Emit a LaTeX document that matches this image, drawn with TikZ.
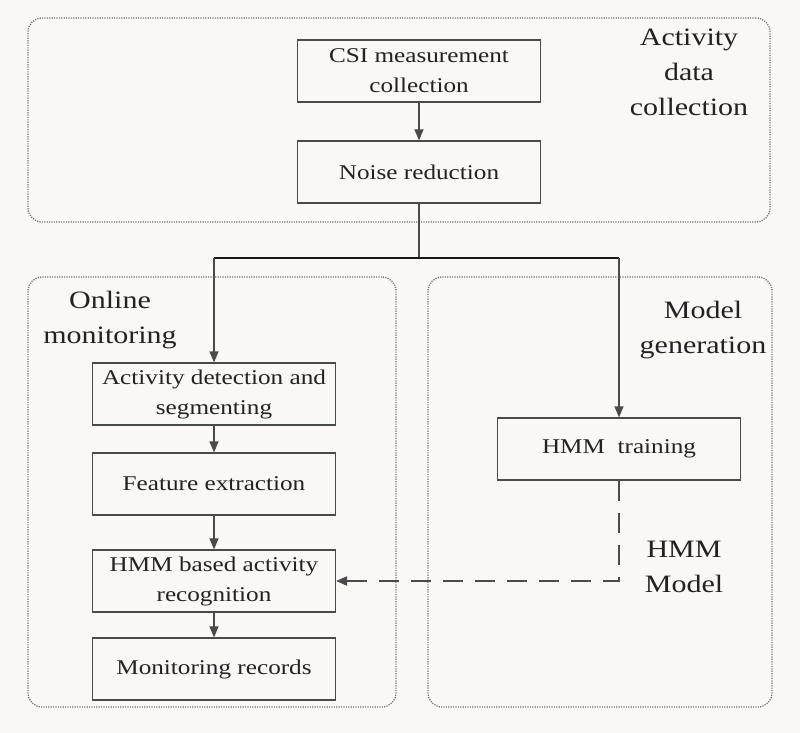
\documentclass[tikz,border=0pt]{standalone}
\usepackage{fontspec}
\setmainfont{Liberation Serif}[FakeStretch=1.2]
\usetikzlibrary{arrows.meta}
\definecolor{bg}{HTML}{FAF7F6}
\definecolor{ln}{HTML}{4A4A4A}
\definecolor{tx}{HTML}{222222}
\definecolor{dt}{HTML}{777777}
\begin{document}
\begin{tikzpicture}[x=1pt,y=-1pt,
 proc/.style={draw=ln, line width=1.2pt, fill=bg, minimum width=243pt, minimum height=62pt, text=tx, font=\fontsize{21}{30}\selectfont, align=center, inner sep=0pt},
 grp/.style={draw=dt, dash pattern=on 1.2pt off 1.2pt, line width=1.3pt, rounded corners=14pt, inner sep=0pt},
 lbl/.style={text=tx, font=\fontsize{25}{35}\selectfont, align=center, inner sep=0pt},
 arr/.style={draw=ln, line width=1.2pt, -{Triangle[length=11pt,width=9pt]}},
 dsh/.style={draw=ln, line width=2pt, dash pattern=on 20pt off 12pt, -{Triangle[length=11pt,width=9pt]}}]
\fill[bg] (0,0) rectangle (800,733);
\useasboundingbox (0,0) rectangle (800,733);
% groups
\node[grp, minimum width=742pt, minimum height=204pt] (gtop) at (399,120) {};
\node[grp, minimum width=368pt, minimum height=430pt] (gleft) at (212,492) {};
\node[grp, minimum width=344pt, minimum height=430pt] (gright) at (600,492) {};
% labels
\node[lbl] (l1) at (689,72) {Activity\\data\\collection};
\node[lbl] (l2) at (110,320) {Online\\monitoring};
\node[lbl] (l3) at (703,330) {Model\\generation};
\node[lbl] (l4) at (684,567) {HMM\\Model};
% boxes
\node[proc] (csi) at (419,71) {CSI measurement\\collection};
\node[proc] (noise) at (419,172) {Noise reduction};
\node[proc] (act) at (214,394) {Activity detection and\\segmenting};
\node[proc] (feat) at (214,484) {Feature extraction};
\node[proc] (hmmb) at (214,581) {HMM based activity\\recognition};
\node[proc] (mon) at (214,669) {Monitoring records};
\node[proc] (train) at (619,449) {HMM\ \ training};
% connectors
\coordinate (j) at (noise.south |- 0,258);
\coordinate (jl) at (act.north |- j);
\coordinate (jr) at (train.north |- j);
\draw[arr] (csi) -- (noise);
\draw[ln, line width=1.2pt] (noise.south) -- (j);
\draw[black!90, line width=2.8pt] (jl) -- (jr);
\draw[arr] (jl) -- (act.north);
\draw[arr] (jr) -- (train.north);
\draw[arr] (act) -- (feat);
\draw[arr] (feat) -- (hmmb);
\draw[arr] (hmmb) -- (mon);
\coordinate (d) at (train.south |- hmmb.east);
\draw[dsh] (train.south) -- (d) -- (hmmb.east);
\end{tikzpicture}
\end{document}
